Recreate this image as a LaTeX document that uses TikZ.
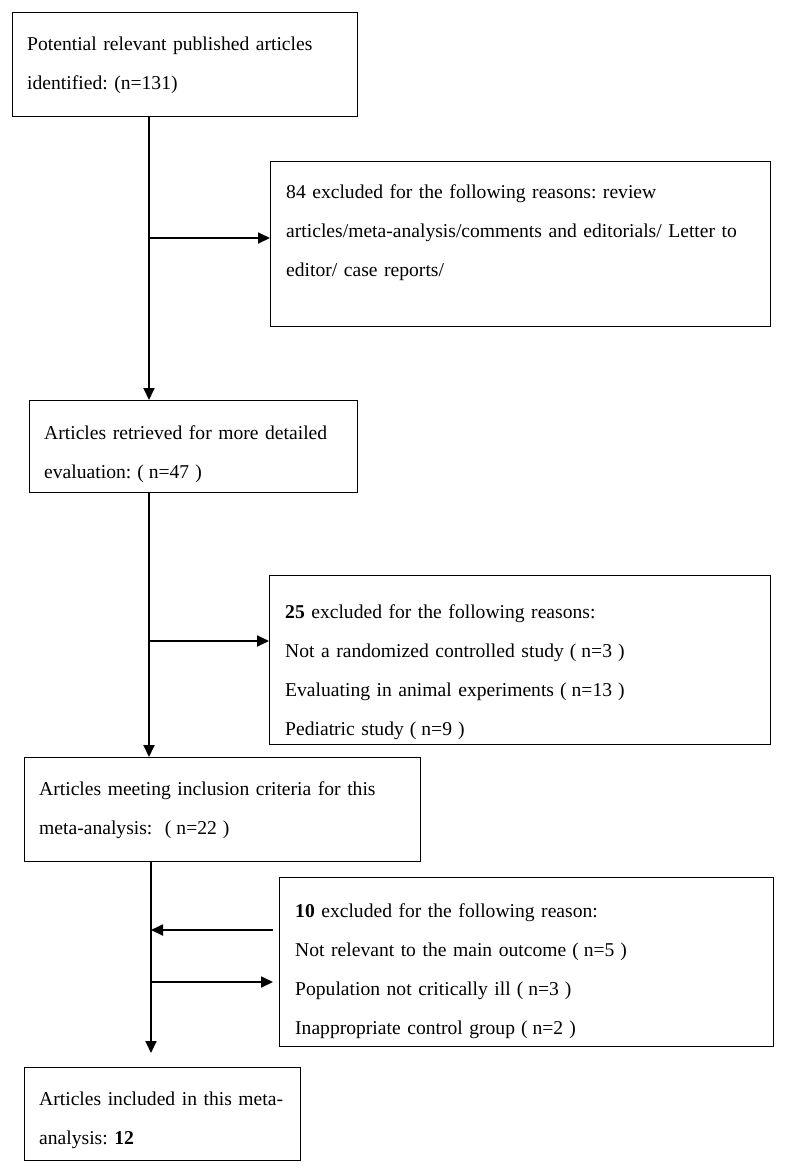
\documentclass[tikz,border=0pt]{standalone}
\usepackage{fontspec}
\setmainfont{Liberation Serif}
\usetikzlibrary{arrows.meta,calc}
\newcommand\pnum[1]{\hspace{6pt}(\hspace{5pt}#1\hspace{6pt})}
\frenchspacing
\begin{document}
\begin{tikzpicture}[x=1pt,y=-1pt,
  box/.style={draw, line width=1.3pt, anchor=north west, inner sep=0pt},
  txt/.style={anchor=base west, inner sep=0pt, text width=#1, align=left, font=\fontsize{19.6}{39}\selectfont},
  arr/.style={line width=1.8pt, -{Triangle[length=12pt,width=11pt]}}]
\useasboundingbox (0,0) rectangle (785,1176);
% boxes
\node[box, minimum width=345pt, minimum height=104pt] (b1) at (12,12) {};
\node[box, minimum width=500pt, minimum height=165pt] (b2) at (270,161) {};
\node[box, minimum width=328pt, minimum height=92pt] (b3) at (29,400) {};
\node[box, minimum width=501pt, minimum height=169pt] (b4) at (269,575) {};
\node[box, minimum width=396pt, minimum height=104pt] (b5) at (24,757) {};
\node[box, minimum width=494pt, minimum height=169pt] (b6) at (279,877) {};
\node[box, minimum width=276pt, minimum height=93pt] (b7) at (24,1067) {};
% texts
\node[txt=325pt] (t1) at (27,50) {Potential relevant published articles\\identified: (n=131)};
\node[txt=480pt] (t2) at (286,198) {84 excluded for the following reasons: review\\articles/meta-analysis/comments and editorials/ Letter to\\editor/ case reports/};
\node[txt=310pt] (t3) at (44,439) {Articles retrieved for more detailed\\evaluation:\pnum{n=47}};
\node[txt=480pt] (t4) at (285,618) {\textbf{25} excluded for the following reasons:\\Not a randomized controlled study\pnum{n=3}\\Evaluating in animal experiments\pnum{n=13}\\Pediatric study\pnum{n=9}};
\node[txt=375pt] (t5) at (39,795) {Articles meeting inclusion criteria for this\\meta-analysis: \pnum{n=22}};
\node[txt=470pt] (t6) at (295,917) {\textbf{10} excluded for the following reason:\\Not relevant to the main outcome\pnum{n=5}\\Population not critically ill\pnum{n=3}\\Inappropriate control group\pnum{n=2}};
\node[txt=255pt] (t7) at (39,1105) {Articles included in this meta-\\analysis: \textbf{12}};
% junction coordinates
\coordinate (j1) at (149,238);
\coordinate (j2) at (149,641);
\coordinate (j3) at (151,930);
\coordinate (j4) at (151,982);
\coordinate (e7) at (151,1053);
\coordinate (s3) at (273,930);
\coordinate (s4) at (273,982);
% connectors
\draw[arr] (b1.south -| j1) -- (b3.north -| j1);
\draw[arr] (j1) -- (j1 -| b2.west);
\draw[arr] (b3.south -| j2) -- (b5.north -| j2);
\draw[arr] (j2) -- (j2 -| b4.west);
\draw[arr] (b5.south -| e7) -- (e7);
\draw[arr] (s3) -- (j3);
\draw[arr] (j4) -- (s4);
\end{tikzpicture}
\end{document}
